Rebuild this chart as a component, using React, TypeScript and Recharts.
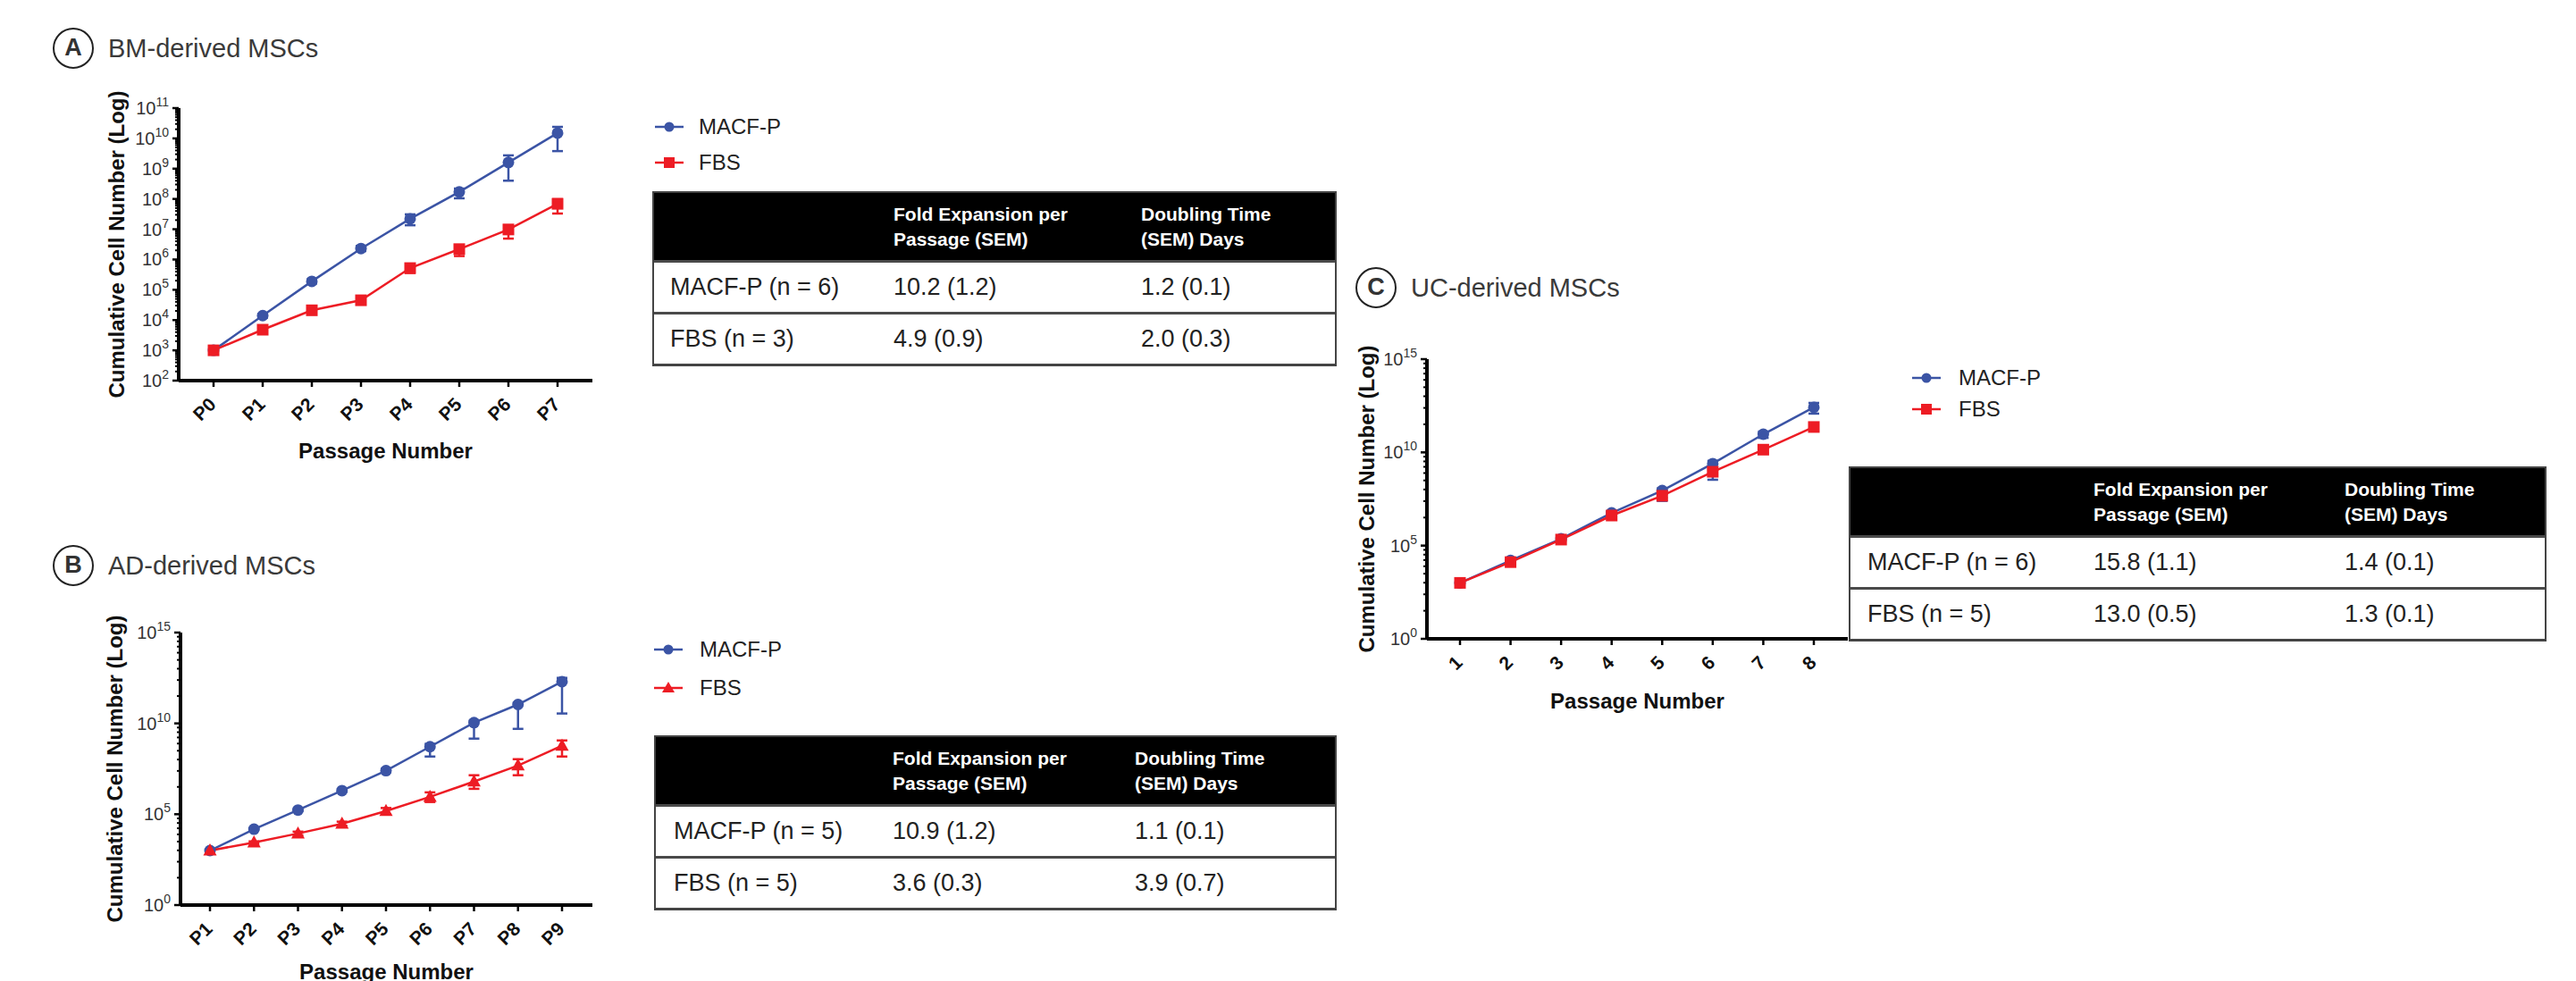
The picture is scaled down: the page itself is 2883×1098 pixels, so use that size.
import React from 'react';
import { LineChart, Line, XAxis, YAxis, ErrorBar } from 'recharts';

const FONT = '"Liberation Sans", Arial, Helvetica, sans-serif';
const BLUE = '#3b54a5';
const RED = '#ed1c24';

// A: BM-derived MSCs
const passagesA = ['P0', 'P1', 'P2', 'P3', 'P4', 'P5', 'P6', 'P7'];
const macfA = [1e3, 1.4e4, 1.9e5, 2.3e6, 2.2e7, 1.7e8, 1.6e9, 1.5e10];
const macfALow = [1e3, 1.2e4, 1.6e5, 1.9e6, 1.35e7, 1.05e8, 4.0e8, 3.8e9];
const macfAHigh = [1e3, 1.6e4, 2.2e5, 2.8e6, 3.1e7, 2.2e8, 2.75e9, 2.4e10];
const fbsA = [1e3, 4.8e3, 2.1e4, 4.5e4, 5.2e5, 2.2e6, 9.8e6, 6.9e7];
const fbsALow = [1e3, 4.5e3, 1.9e4, 4.2e4, 3.6e5, 1.3e6, 4.9e6, 3.3e7];
const fbsAHigh = [1e3, 5.1e3, 2.3e4, 4.8e4, 6.5e5, 2.8e6, 1.35e7, 9.8e7];

// B: AD-derived MSCs
const passagesB = ['P1', 'P2', 'P3', 'P4', 'P5', 'P6', 'P7', 'P8', 'P9'];
const macfB = [1e3, 1.5e4, 1.7e5, 2.0e6, 2.5e7, 5.2e8, 1.1e10, 1.1e11, 2.0e12];
const macfBLow = [1e3, 1.4e4, 1.5e5, 1.7e6, 2.0e7, 1.5e8, 1.45e9, 5.0e9, 3.5e10];
const macfBHigh = [1e3, 1.6e4, 1.9e5, 2.4e6, 3.2e7, 7.4e8, 1.4e10, 1.35e11, 3.2e12];
const fbsB = [1e3, 2.8e3, 8.7e3, 3.0e4, 1.5e5, 9.0e5, 6.3e6, 4.8e7, 5.9e8];
const fbsBLow = [1e3, 2.4e3, 7.0e3, 2.3e4, 1.0e5, 4.7e5, 2.5e6, 1.4e7, 1.5e8];
const fbsBHigh = [1e3, 3.2e3, 1.1e4, 3.9e4, 2.2e5, 1.6e6, 1.4e7, 1.07e8, 1.15e9];

// C: UC-derived MSCs
const passagesC = ['1', '2', '3', '4', '5', '6', '7', '8'];
const macfC = [1e3, 1.6e4, 2.3e5, 5.7e6, 9.0e7, 2.5e9, 9.4e10, 2.6e12];
const macfCLow = [1e3, 1.4e4, 1.9e5, 4.5e6, 2.5e7, 3.4e8, 6.0e10, 1.2e12];
const macfCHigh = [1e3, 1.8e4, 2.7e5, 7.0e6, 1.2e8, 3.5e9, 1.3e11, 4.5e12];
const fbsC = [1e3, 1.3e4, 2.1e5, 4.1e6, 4.7e7, 9.1e8, 1.4e10, 2.3e11];
const fbsCLow = [1e3, 1.2e4, 1.8e5, 3.4e6, 3.6e7, 6.5e8, 9.5e9, 1.7e11];
const fbsCHigh = [1e3, 1.4e4, 2.4e5, 4.9e6, 6.0e7, 1.2e9, 1.9e10, 3.0e11];

// axis exponents that carry a label
const yExpA = [2, 3, 4, 5, 6, 7, 8, 9, 10, 11];
const yExpBC = [0, 5, 10, 15];

const headers = ['', 'Fold Expansion per\nPassage (SEM)', 'Doubling Time\n(SEM) Days'];
const tableA = [
  ['MACF-P (n = 6)', '10.2 (1.2)', '1.2 (0.1)'],
  ['FBS (n = 3)', '4.9 (0.9)', '2.0 (0.3)'],
];
const tableB = [
  ['MACF-P (n = 5)', '10.9 (1.2)', '1.1 (0.1)'],
  ['FBS (n = 5)', '3.6 (0.3)', '3.9 (0.7)'],
];
const tableC = [
  ['MACF-P (n = 6)', '15.8 (1.1)', '1.4 (0.1)'],
  ['FBS (n = 5)', '13.0 (0.5)', '1.3 (0.1)'],
];

function buildRows(cats: string[], m: number[], mLo: number[], mHi: number[], f: number[], fLo: number[], fHi: number[]) {
  return cats.map((p, i) => ({
    p,
    macf: m[i],
    macfErr: [m[i] - mLo[i], mHi[i] - m[i]],
    fbs: f[i],
    fbsErr: [f[i] - fLo[i], fHi[i] - f[i]],
  }));
}

// minor ticks: 2..9 inside every decade
function decadeMinors(exps: number[]) {
  const out: number[] = [];
  exps.slice(0, -1).forEach((e) => {
    for (let k = 2; k <= 9; k++) out.push(k * Math.pow(10, e));
  });
  return out;
}

// Prism style minors on a 5-decade major spacing
function wideMinors(exps: number[]) {
  const out: number[] = [];
  exps.slice(0, -1).forEach((e) => {
    for (let k = 2; k <= 9; k++) out.push(Math.pow(10, e + 5 * Math.log10(k)));
  });
  return out;
}

const circleDot = (props: any) => (
  <circle key={`c-${props.index}`} cx={props.cx} cy={props.cy} r={6.5} fill={BLUE} />
);
const squareDot = (props: any) => (
  <rect key={`s-${props.index}`} x={props.cx - 6.5} y={props.cy - 6.5} width={13} height={13} fill={RED} />
);
const triangleDot = (props: any) => (
  <polygon
    key={`t-${props.index}`}
    points={`${props.cx},${props.cy - 8} ${props.cx + 7.5},${props.cy + 5.5} ${props.cx - 7.5},${props.cy + 5.5}`}
    fill={RED}
  />
);

function makeYTick(majorExps: number[]) {
  return (props: any) => {
    const { x, y, payload } = props;
    const v = payload.value;
    const e = Math.round(Math.log10(v));
    const isMajor = majorExps.includes(e) && Math.abs(v / Math.pow(10, e) - 1) < 1e-6;
    if (!isMajor) {
      return <line x1={x} x2={x - 4} y1={y} y2={y} stroke="#000" strokeWidth={2} />;
    }
    return (
      <g>
        <line x1={x} x2={x - 7} y1={y} y2={y} stroke="#000" strokeWidth={2.5} />
        <text x={x - 11} y={y + 7} textAnchor="end" fontFamily={FONT} fontSize={20} fill="#333">
          10
          <tspan fontSize={14} dy={-9}>{e}</tspan>
        </text>
      </g>
    );
  };
}

const XTick = (props: any) => {
  const { x, y, payload } = props;
  const ax = x + 4;
  const ay = y + 19;
  return (
    <text
      x={ax}
      y={ay}
      transform={`rotate(-45, ${ax}, ${ay})`}
      textAnchor="end"
      fontFamily={FONT}
      fontWeight={700}
      fontSize={21}
      fill="#111"
    >
      {payload.value}
    </text>
  );
};

function yLabel(cx: number) {
  return (props: any) => {
    const vb = props.viewBox || {};
    const cy = vb.y + vb.height / 2;
    return (
      <text
        x={cx}
        y={cy}
        dy="0.35em"
        transform={`rotate(-90, ${cx}, ${cy})`}
        textAnchor="middle"
        fontFamily={FONT}
        fontWeight={700}
        fontSize={24}
        fill="#111"
      >
        Cumulative Cell Number (Log)
      </text>
    );
  };
}

function xLabel(dy: number) {
  return (props: any) => {
    const vb = props.viewBox || {};
    return (
      <text
        x={vb.x + vb.width / 2}
        y={vb.y + dy}
        dy="0.35em"
        textAnchor="middle"
        fontFamily={FONT}
        fontWeight={700}
        fontSize={24}
        fill="#111"
      >
        Passage Number
      </text>
    );
  };
}

type PanelProps = {
  rows: any[];
  left: number;
  top: number;
  width: number;
  height: number;
  marginTop: number;
  marginRight: number;
  yWidth: number;
  xHeight: number;
  domain: [number, number];
  yTicks: number[];
  majors: number[];
  padL: number;
  padR: number;
  yLabelX: number;
  xLabelDy: number;
  fbsDot: (p: any) => any;
};

function Panel(p: PanelProps) {
  return (
    <div style={{ position: 'absolute', left: p.left, top: p.top }}>
      <LineChart
        width={p.width}
        height={p.height}
        data={p.rows}
        margin={{ top: p.marginTop, right: p.marginRight, bottom: 0, left: 0 }}
      >
        <XAxis
          dataKey="p"
          type="category"
          interval={0}
          height={p.xHeight}
          padding={{ left: p.padL, right: p.padR }}
          axisLine={{ stroke: '#000', strokeWidth: 4 }}
          tickLine={{ stroke: '#000', strokeWidth: 2.5 }}
          tickSize={7}
          tickMargin={2}
          tick={<XTick />}
          label={xLabel(p.xLabelDy)}
        />
        <YAxis
          scale="log"
          type="number"
          domain={p.domain}
          allowDataOverflow
          ticks={p.yTicks}
          interval={0}
          width={p.yWidth}
          axisLine={{ stroke: '#000', strokeWidth: 4 }}
          tickLine={false}
          tickSize={0}
          tickMargin={0}
          tick={makeYTick(p.majors)}
          label={yLabel(p.yLabelX)}
        />
        <Line
          dataKey="macf"
          stroke={BLUE}
          strokeWidth={2.5}
          dot={circleDot}
          activeDot={false}
          isAnimationActive={false}
        >
          <ErrorBar dataKey="macfErr" direction="y" width={6} stroke={BLUE} strokeWidth={2.5} />
        </Line>
        <Line
          dataKey="fbs"
          stroke={RED}
          strokeWidth={2.5}
          dot={p.fbsDot}
          activeDot={false}
          isAnimationActive={false}
        >
          <ErrorBar dataKey="fbsErr" direction="y" width={6} stroke={RED} strokeWidth={2.5} />
        </Line>
      </LineChart>
    </div>
  );
}

function Heading({ cx, cy, letter, title }: { cx: number; cy: number; letter: string; title: string }) {
  return (
    <>
      <div
        style={{
          position: 'absolute',
          left: cx - 23,
          top: cy - 23,
          width: 46,
          height: 46,
          boxSizing: 'border-box',
          border: '2.5px solid #222',
          borderRadius: '50%',
          textAlign: 'center',
          lineHeight: '41px',
          fontFamily: FONT,
          fontWeight: 700,
          fontSize: 27,
          color: '#333',
        }}
      >
        {letter}
      </div>
      <div
        style={{
          position: 'absolute',
          left: cx + 39,
          top: cy - 17,
          lineHeight: '34px',
          fontFamily: FONT,
          fontSize: 29,
          color: '#3a3a3a',
          whiteSpace: 'nowrap',
        }}
      >
        {title}
      </div>
    </>
  );
}

function LegendMarker({ color, shape }: { color: string; shape: string }) {
  return (
    <svg width={32} height={16} style={{ display: 'block' }}>
      <line x1={0} x2={32} y1={8} y2={8} stroke={color} strokeWidth={2.5} />
      {shape === 'circle' && <circle cx={16} cy={8} r={5.5} fill={color} />}
      {shape === 'square' && <rect x={10} y={2} width={12} height={12} fill={color} />}
      {shape === 'triangle' && <polygon points="16,1 23,13 9,13" fill={color} />}
    </svg>
  );
}

function SeriesLegend({ left, textLeft, y1, y2, fbsShape }: { left: number; textLeft: number; y1: number; y2: number; fbsShape: string }) {
  const items = [
    { label: 'MACF-P', color: BLUE, shape: 'circle', y: y1 },
    { label: 'FBS', color: RED, shape: fbsShape, y: y2 },
  ];
  return (
    <>
      {items.map((it) => (
        <React.Fragment key={it.label}>
          <div style={{ position: 'absolute', left, top: it.y - 8 }}>
            <LegendMarker color={it.color} shape={it.shape} />
          </div>
          <div
            style={{
              position: 'absolute',
              left: textLeft,
              top: it.y - 15,
              lineHeight: '30px',
              fontFamily: FONT,
              fontSize: 24,
              color: '#222',
              whiteSpace: 'nowrap',
            }}
          >
            {it.label}
          </div>
        </React.Fragment>
      ))}
    </>
  );
}

function StatsTable({ left, top, width, cols, rows }: { left: number; top: number; width: number; cols: number[]; rows: string[][] }) {
  return (
    <div
      style={{
        position: 'absolute',
        left,
        top,
        width,
        boxSizing: 'border-box',
        border: '2px solid #444',
        borderBottomWidth: 3,
        fontFamily: FONT,
      }}
    >
      <div style={{ position: 'relative', height: 75, background: '#000' }}>
        {headers.map((h, i) =>
          h ? (
            <div
              key={i}
              style={{
                position: 'absolute',
                left: cols[i],
                top: 10,
                color: '#fff',
                fontWeight: 700,
                fontSize: 21,
                lineHeight: '28px',
                whiteSpace: 'pre',
              }}
            >
              {h}
            </div>
          ) : null
        )}
      </div>
      {rows.map((r, ri) => (
        <div
          key={ri}
          style={{ position: 'relative', height: 58, boxSizing: 'border-box', borderTop: '3px solid #4a4a4a' }}
        >
          {r.map((c, ci) => (
            <div
              key={ci}
              style={{
                position: 'absolute',
                left: cols[ci],
                top: 0,
                lineHeight: '55px',
                fontSize: 27,
                color: '#222',
                whiteSpace: 'nowrap',
              }}
            >
              {c}
            </div>
          ))}
        </div>
      ))}
    </div>
  );
}

export default function App() {
  const rowsA = buildRows(passagesA, macfA, macfALow, macfAHigh, fbsA, fbsALow, fbsAHigh);
  const rowsB = buildRows(passagesB, macfB, macfBLow, macfBHigh, fbsB, fbsBLow, fbsBHigh);
  const rowsC = buildRows(passagesC, macfC, macfCLow, macfCHigh, fbsC, fbsCLow, fbsCHigh);

  const majorA = yExpA.map((e) => Math.pow(10, e));
  const majorBC = yExpBC.map((e) => Math.pow(10, e));
  const ticksA = [...majorA, ...decadeMinors(yExpA)];
  const ticksBC = [...majorBC, ...wideMinors(yExpBC)];

  return (
    <div
      style={{
        position: 'absolute',
        left: 0,
        top: 0,
        width: 2883,
        height: 1098,
        background: '#fff',
        overflow: 'hidden',
        fontFamily: FONT,
      }}
    >
      <Heading cx={82} cy={54} letter="A" title="BM-derived MSCs" />
      <Heading cx={82} cy={633} letter="B" title="AD-derived MSCs" />
      <Heading cx={1540} cy={322} letter="C" title="UC-derived MSCs" />

      <Panel
        rows={rowsA}
        left={0}
        top={0}
        width={700}
        height={540}
        marginTop={121}
        marginRight={37}
        yWidth={200}
        xHeight={114}
        domain={[1e2, 1e11]}
        yTicks={ticksA}
        majors={yExpA}
        padL={39}
        padR={39}
        yLabelX={131}
        xLabelDy={79}
        fbsDot={squareDot}
      />
      <Panel
        rows={rowsB}
        left={0}
        top={600}
        width={700}
        height={498}
        marginTop={108}
        marginRight={37}
        yWidth={202}
        xHeight={85}
        domain={[1e0, 1e15]}
        yTicks={ticksBC}
        majors={yExpBC}
        padL={33}
        padR={34}
        yLabelX={129}
        xLabelDy={75}
        fbsDot={triangleDot}
      />
      <Panel
        rows={rowsC}
        left={1460}
        top={340}
        width={640}
        height={470}
        marginTop={62}
        marginRight={32}
        yWidth={137}
        xHeight={95}
        domain={[1e0, 1e15]}
        yTicks={ticksBC}
        majors={yExpBC}
        padL={37}
        padR={38}
        yLabelX={70}
        xLabelDy={70}
        fbsDot={squareDot}
      />

      <SeriesLegend left={733} textLeft={782} y1={142} y2={182} fbsShape="square" />
      <SeriesLegend left={732} textLeft={783} y1={727} y2={770} fbsShape="triangle" />
      <SeriesLegend left={2140} textLeft={2192} y1={423} y2={458} fbsShape="square" />

      <StatsTable left={730} top={214} width={766} cols={[18, 268, 545]} rows={tableA} />
      <StatsTable left={732} top={823} width={764} cols={[20, 265, 536]} rows={tableB} />
      <StatsTable left={2069} top={522} width={781} cols={[19, 272, 553]} rows={tableC} />
    </div>
  );
}
